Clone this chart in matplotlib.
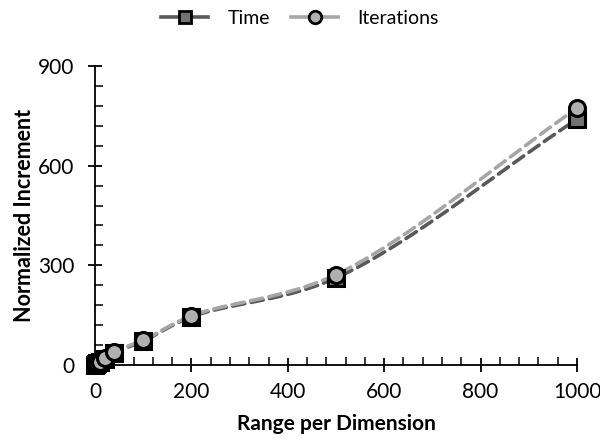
import numpy as np
import matplotlib
matplotlib.use("Agg")
import matplotlib.pyplot as plt
from matplotlib.ticker import MultipleLocator

range_per_dim = [1, 2, 5, 10, 20, 40, 100, 200, 500, 1000]
time_incr = [1, 2, 4.5, 9, 18, 37, 72, 145, 262, 740]
iter_incr = [1, 2, 5, 10, 20, 40, 75, 148, 272, 773]

series_names = ["Time", "Iterations"]
x_ticks = [0, 200, 400, 600, 800, 1000]
y_ticks = [0, 300, 600, 900]

plt.rcParams["font.family"] = ["Lato", "DejaVu Sans"]


def smooth_curve(xs, ys, n=40, alpha=0.5, scale=(1.0, 1.0)):
    """Centripetal Catmull-Rom spline through the points."""
    p = np.column_stack([np.asarray(xs, float) * scale[0],
                         np.asarray(ys, float) * scale[1]])
    p = np.vstack([2 * p[0] - p[1], p, 2 * p[-1] - p[-2]])
    out = []
    for i in range(1, len(p) - 2):
        p0, p1, p2, p3 = p[i - 1], p[i], p[i + 1], p[i + 2]
        t0 = 0.0
        t1 = t0 + np.linalg.norm(p1 - p0) ** alpha
        t2 = t1 + np.linalg.norm(p2 - p1) ** alpha
        t3 = t2 + np.linalg.norm(p3 - p2) ** alpha
        t = np.linspace(t1, t2, n)[:, None]
        a1 = (t1 - t) / (t1 - t0) * p0 + (t - t0) / (t1 - t0) * p1
        a2 = (t2 - t) / (t2 - t1) * p1 + (t - t1) / (t2 - t1) * p2
        a3 = (t3 - t) / (t3 - t2) * p2 + (t - t2) / (t3 - t2) * p3
        b1 = (t2 - t) / (t2 - t0) * a1 + (t - t0) / (t2 - t0) * a2
        b2 = (t3 - t) / (t3 - t1) * a2 + (t - t1) / (t3 - t1) * a3
        c = (t2 - t) / (t2 - t1) * b1 + (t - t1) / (t2 - t1) * b2
        out.append(c)
    c = np.vstack(out)
    return c[:, 0] / scale[0], c[:, 1] / scale[1]


fig = plt.figure(figsize=(6.0, 4.43), dpi=100)
ax = fig.add_axes([0.1583, 0.1761, 0.8034, 0.6749])

styles = [
    dict(line="#595959", marker="s", face="#737373"),
    dict(line="#a6a6a6", marker="o", face="#b0b0b0"),
]
handles = []
for name, ys, st in zip(series_names, [time_incr, iter_incr], styles):
    # work in approximate pixel units so the spline follows the drawn aspect
    cx, cy = smooth_curve(range_per_dim, ys, scale=(0.482, 0.332))
    ax.plot(cx, cy, color=st["line"], lw=2.6, ls=(0, (3.4, 1.8)),
            dash_capstyle="round", zorder=2)
    ax.plot(range_per_dim, ys, ls="none", marker=st["marker"], ms=11.5,
            mfc=st["face"], mec="black", mew=2.2, zorder=3, clip_on=False)
    h, = ax.plot([], [], color=st["line"], lw=2.6, ls="-",
                 marker=st["marker"], ms=9, mfc=st["face"], mec="black",
                 mew=2.0)
    handles.append(h)

ax.set_xlim(0, 1000)
ax.set_ylim(0, 900)
ax.set_xticks(x_ticks)
ax.set_yticks(y_ticks)
ax.xaxis.set_minor_locator(MultipleLocator(40))
ax.yaxis.set_minor_locator(MultipleLocator(60))

for s in ["top", "right"]:
    ax.spines[s].set_visible(False)
for s in ["left", "bottom"]:
    ax.spines[s].set_linewidth(1.3)
    ax.spines[s].set_color("black")

ax.tick_params(which="major", direction="inout", length=10, width=1.3,
               labelsize=15, colors="black")
ax.tick_params(which="minor", direction="in", length=6, width=1.1)
ax.tick_params(axis="x", which="major", pad=7)
ax.tick_params(axis="y", which="major", pad=10)

ax.set_xlabel("Range per Dimension", fontsize=15, fontweight="bold",
              labelpad=9)
ax.set_ylabel("Normalized Increment", fontsize=15.5, fontweight="bold",
              labelpad=2)

fig.legend(handles, series_names, loc="upper center",
           bbox_to_anchor=(0.5, 1.018), ncol=2, frameon=False, fontsize=14,
           handlelength=2.4, columnspacing=1.1, handletextpad=1.0)

fig.savefig("out.png", dpi=100)
